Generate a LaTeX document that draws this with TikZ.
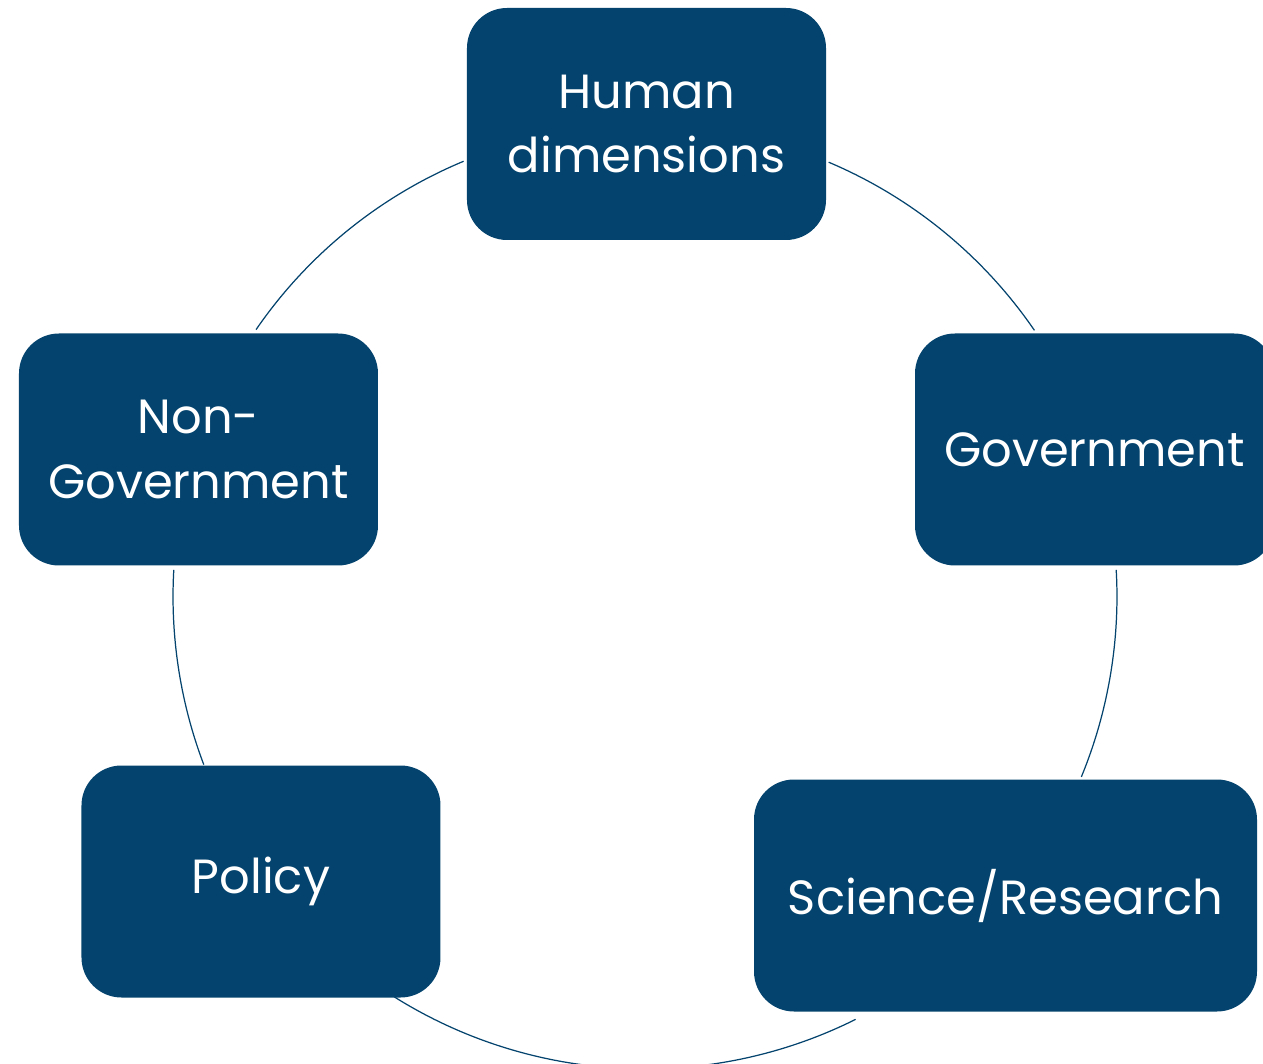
\documentclass[tikz,border=0pt]{standalone}
\usepackage{fontspec}
\setmainfont{Poppins}
\usepackage{xcolor}
\usepackage{tikz}
\usetikzlibrary{positioning}

\definecolor{cycleblue}{RGB}{4,67,109}

\begin{document}
\begin{tikzpicture}[
        stage/.style={rectangle, rounded corners=0.8cm, fill=cycleblue, text=white, minimum width=7.18cm, minimum height=4.64cm, inner sep=0pt, align=center, font=\fontsize{27.3}{36.5}\selectfont},
        link/.style={draw=cycleblue, line width=0.7pt}
    ]
        \useasboundingbox (-12.9,-9.34) rectangle (12.36,11.94);
        \clip (-12.9,-9.34) rectangle (12.36,11.94);

        % Stages of the cycle
        \node[stage] (human) at (0.03,9.46) {Human\\dimensions};
        \node[stage] (gov) at (8.99,2.95) {Government};
        \node[stage] (ngov) at (-8.93,2.95) {Non-\\Government};
        \node[stage] (policy) at (-7.68,-5.69) {Policy};
        \node[stage, minimum width=10.06cm] (science) at (7.21,-5.97) {Science/Research};

        % Where the ring meets the boxes
        \coordinate (humanW) at (112.6:9.44);
        \coordinate (ngovN) at (145.5:9.44);
        \coordinate (ngovS) at (176.7:9.44);
        \coordinate (policyN) at (200.8:9.44);
        \coordinate (policyE) at (237.9:9.44);
        \coordinate (scienceW) at (296.5:9.44);
        \coordinate (scienceN) at (337.6:9.44);
        \coordinate (govS) at (363.3:9.44);
        \coordinate (govN) at (34.4:9.44);
        \coordinate (humanE) at (67.1:9.44);

        % Ring linking the stages
        \draw[link] (humanW) to[bend right=16.45, looseness=0.87] (ngovN);
        \draw[link] (ngovS) to[bend right=12.05, looseness=0.86] (policyN);
        \draw[link] (policyE) to[bend right=29.3, looseness=0.91] (scienceW);
        \draw[link] (scienceN) to[bend right=12.85, looseness=0.86] (govS);
        \draw[link] (govN) to[bend right=16.35, looseness=0.87] (humanE);

    \end{tikzpicture}
\end{document}
